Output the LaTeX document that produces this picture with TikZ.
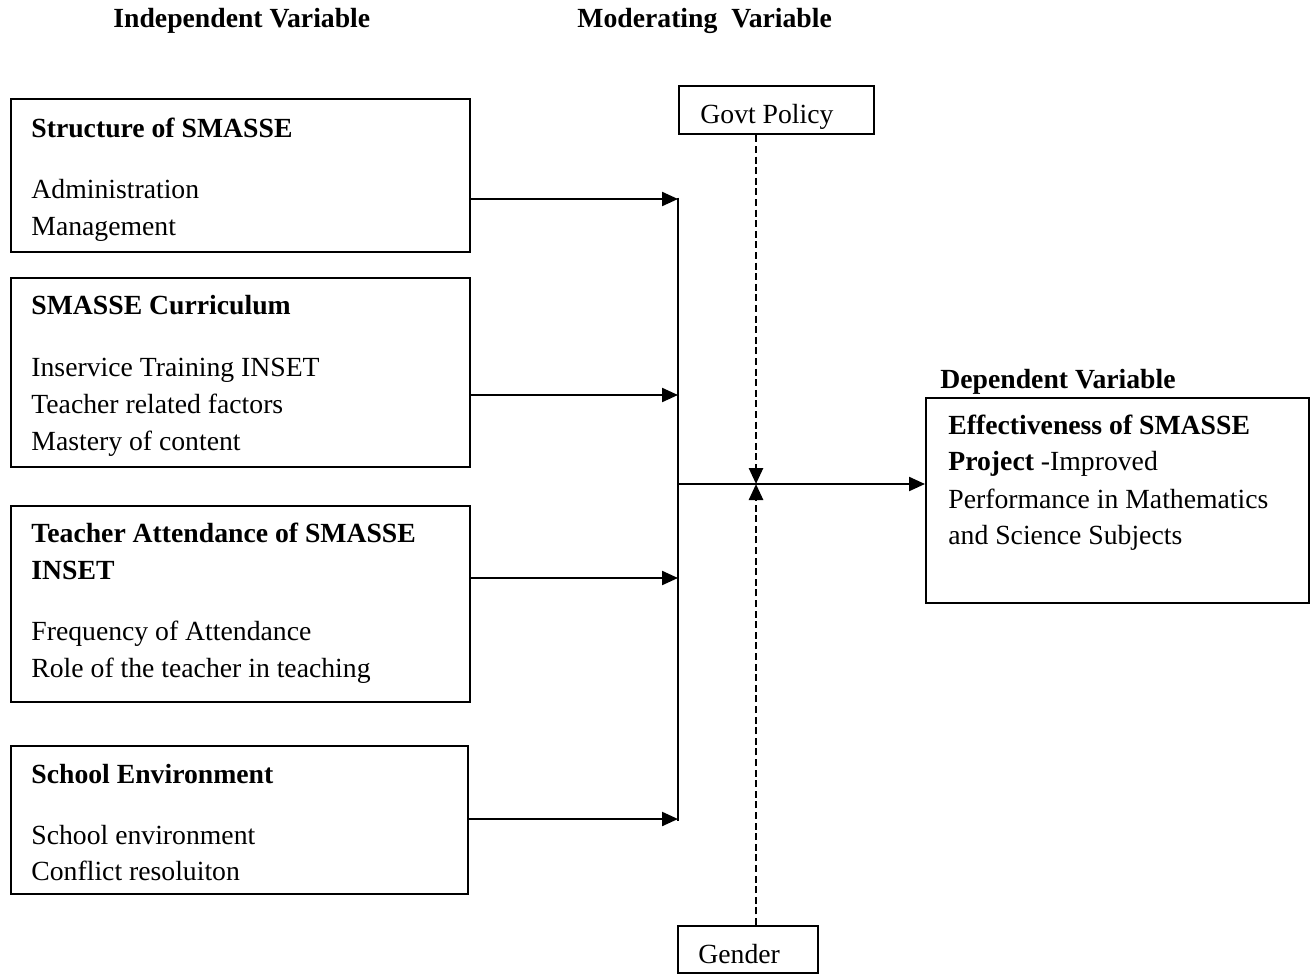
\documentclass[tikz,border=0pt]{standalone}
\usepackage{fontspec}
\setmainfont{Liberation Serif}
\usetikzlibrary{arrows.meta}
\tikzset{
  box/.style={draw, line width=1.2pt, inner sep=0pt, anchor=north west},
  txt/.style={anchor=base west, inner sep=0pt, font=\fontsize{13.85}{17}\selectfont},
  head/.style={anchor=base west, inner sep=0pt, font=\fontsize{13.85}{17}\selectfont\bfseries},
  conn/.style={line width=1.1pt, -{Triangle[length=8pt,width=7pt]}},
  bus/.style={line width=1.1pt},
  dashconn/.style={line width=1.3pt, dash pattern=on 3.5pt off 1.8pt, -{Triangle[length=8pt,width=7pt]}}
}
\begin{document}
\begin{tikzpicture}[x=0.5pt,y=-0.5pt]
\useasboundingbox (0,0) rectangle (1315,974);
% headers
\node[head] (hInd) at (113,28) {Independent Variable};
\node[head] (hMod) at (577,28) {Moderating\ \ Variable};
\node[head] (hDep) at (940,388) {Dependent Variable};
% boxes
\node[box, minimum width=229.5pt, minimum height=76.5pt] (b1) at (10,98) {};
\node[box, minimum width=229.5pt, minimum height=94.5pt] (b2) at (10,277) {};
\node[box, minimum width=229.5pt, minimum height=98pt] (b3) at (10,505) {};
\node[box, minimum width=228.5pt, minimum height=74pt] (b4) at (10,745) {};
\node[box, minimum width=97.5pt, minimum height=24pt] (govt) at (678,85) {};
\node[box, minimum width=70pt, minimum height=23.5pt] (gender) at (677,925) {};
\node[box, minimum width=191.5pt, minimum height=102.5pt] (dep) at (925,397) {};
% box texts
\node[head] (t1a) at (31,137) {Structure of SMASSE};
\node[txt] (t1b) at (31,198) {Administration};
\node[txt] (t1c) at (31,235) {Management};
\node[head] (t2a) at (31,314) {SMASSE Curriculum};
\node[txt] (t2b) at (31,376) {Inservice Training INSET};
\node[txt] (t2c) at (31,413) {Teacher related factors};
\node[txt] (t2d) at (31,450) {Mastery of content};
\node[head] (t3a) at (31,542) {Teacher Attendance of SMASSE};
\node[head] (t3b) at (31,579) {INSET};
\node[txt] (t3c) at (31,640) {Frequency of Attendance};
\node[txt] (t3d) at (31,677) {Role of the teacher in teaching};
\node[head] (t4a) at (31,783) {School Environment};
\node[txt] (t4b) at (31,844) {School environment};
\node[txt] (t4c) at (31,880) {Conflict resoluiton};
\node[txt] (tg) at (700,123) {Govt Policy};
\node[txt] (tgen) at (698,963) {Gender};
\node[txt] (td1) at (948,434) {\textbf{Effectiveness of SMASSE}};
\node[txt] (td2) at (948,470) {\textbf{Project} -Improved};
\node[txt] (td3) at (948,508) {Performance in Mathematics};
\node[txt] (td4) at (948,544) {and Science Subjects};
% connectors
\coordinate (p1) at (678,199);
\coordinate (p2) at (678,395);
\coordinate (p3) at (678,578);
\coordinate (p4) at (678,819);
\coordinate (pout) at (678,484);
\coordinate (mid) at (756,484);
\draw[bus] (678,197.5) coordinate (top) -- (678,820.5) coordinate (bot);
\draw[conn] (b1.east |- p1) -- (p1);
\draw[conn] (b2.east |- p2) -- (p2);
\draw[conn] (b3.east |- p3) -- (p3);
\draw[conn] (b4.east |- p4) -- (p4);
\draw[conn] (pout) -- (dep.west |- pout);
\draw[dashconn] (govt.south -| mid) -- (mid);
\draw[dashconn] (gender.north -| mid) -- (mid);
\end{tikzpicture}
\end{document}
